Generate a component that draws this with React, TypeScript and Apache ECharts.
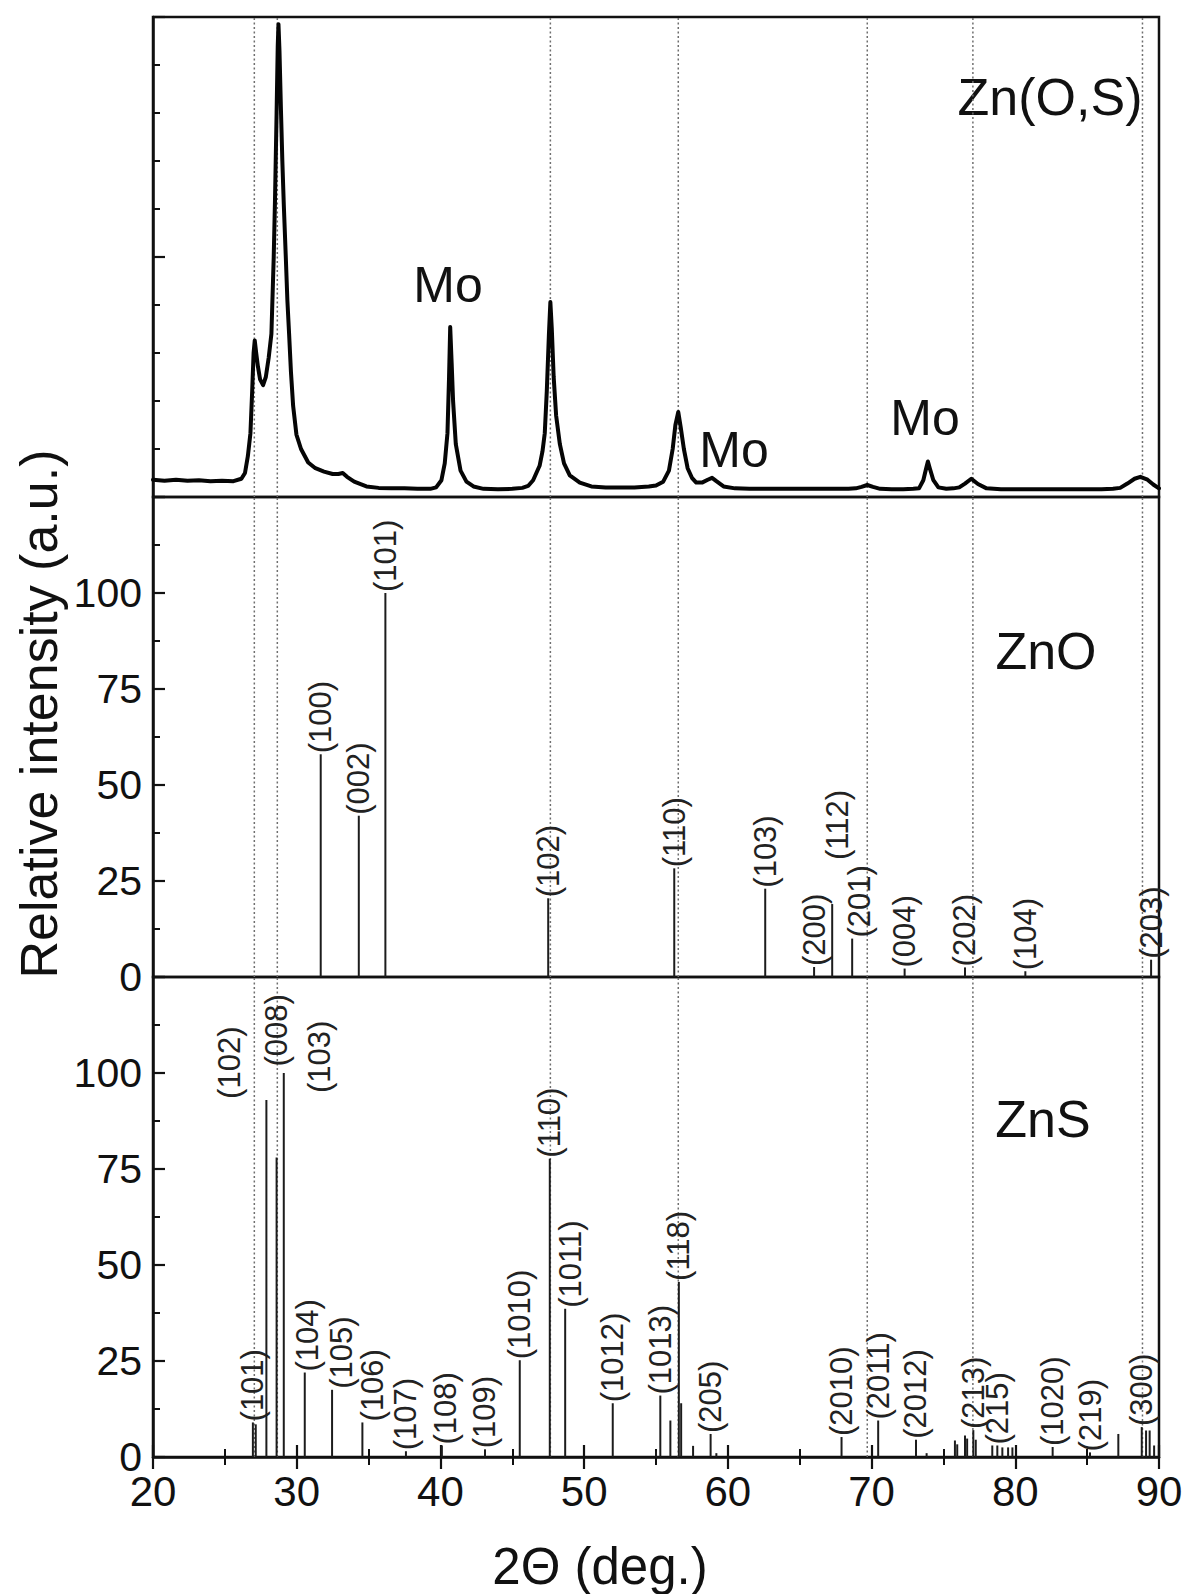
import React, { useEffect, useRef } from "react";
import * as echarts from "echarts";

const FONT = "'Liberation Sans', Arial, Helvetica, sans-serif";

// ---- Panel 1: measured Zn(O,S) pattern (2θ in deg, intensity in arbitrary units 0..10)
const XRD_ANGLE = [
  20.0, 20.8, 21.6, 22.4, 23.2, 24.0, 24.8, 25.6, 26.15, 26.4, 26.6, 26.78, 26.9, 27.0, 27.08, 27.18, 27.3,
  27.45, 27.66, 27.85, 28.05, 28.24, 28.4, 28.49, 28.6, 28.68, 28.73, 28.8, 28.9, 29.0, 29.1, 29.24, 29.35,
  29.47, 29.6, 29.75, 29.98, 30.3, 30.8, 31.3, 31.9, 32.5, 32.9, 33.2, 33.5, 34.0, 34.85, 35.7, 36.6, 37.5,
  38.4, 39.3, 39.7, 40.07, 40.3, 40.49, 40.6, 40.68, 40.78, 40.88, 41.07, 41.4, 41.81, 42.3, 43.0, 44.0, 45.0,
  45.7, 46.1, 46.45, 46.9, 47.1, 47.26, 47.4, 47.55, 47.65, 47.75, 47.88, 48.05, 48.31, 48.6, 49.0, 49.7,
  50.5, 51.5, 52.5, 53.5, 54.5, 55.0, 55.5, 55.9, 56.16, 56.35, 56.55, 56.72, 56.94, 57.2, 57.5, 57.8, 58.2,
  58.6, 58.9, 59.2, 59.7, 60.5, 61.5, 62.5, 63.5, 64.5, 65.5, 66.5, 67.5, 68.4, 68.9, 69.3, 69.7, 70.1, 70.6,
  71.4, 72.2, 72.9, 73.3, 73.6, 73.8, 73.92, 74.05, 74.3, 74.65, 75.2, 75.7, 76.1, 76.5, 76.94, 77.4, 78.0,
  79.0, 80.0, 81.0, 82.0, 83.0, 84.0, 85.0, 86.0, 86.8, 87.3, 87.8, 88.3, 88.7, 89.2, 89.6, 90.0,
];
const XRD_INTENSITY = [
  0.36, 0.34, 0.36, 0.34, 0.35, 0.33, 0.34, 0.33, 0.38, 0.5, 0.85, 1.33, 2.2, 3.0, 3.26, 3.0, 2.72,
  2.45, 2.33, 2.5, 2.9, 3.4, 5.0, 6.2, 8.0, 9.4, 9.85, 9.3, 8.1, 7.0, 6.1, 5.0, 4.1,
  3.4, 2.6, 1.9, 1.3, 1.0, 0.72, 0.6, 0.53, 0.48, 0.48, 0.5, 0.42, 0.32, 0.22, 0.19, 0.18, 0.18,
  0.17, 0.17, 0.2, 0.35, 0.7, 1.33, 2.5, 3.54, 2.8, 2.0, 1.1, 0.55, 0.32, 0.22, 0.17, 0.16, 0.17,
  0.19, 0.23, 0.35, 0.65, 0.95, 1.33, 2.2, 3.4, 4.06, 3.5, 2.5, 1.7, 1.1, 0.7, 0.45, 0.3,
  0.22, 0.2, 0.2, 0.2, 0.22, 0.24, 0.32, 0.55, 1.0, 1.5, 1.77, 1.45, 1.0, 0.6, 0.4, 0.3, 0.3,
  0.36, 0.4, 0.33, 0.22, 0.18, 0.17, 0.17, 0.17, 0.17, 0.17, 0.17, 0.17, 0.17, 0.18, 0.21, 0.25, 0.21, 0.17,
  0.16, 0.16, 0.17, 0.18, 0.35, 0.6, 0.74, 0.6, 0.35, 0.2, 0.17, 0.18, 0.2, 0.28, 0.38, 0.27, 0.18,
  0.16, 0.16, 0.16, 0.16, 0.16, 0.16, 0.16, 0.16, 0.17, 0.19, 0.28, 0.38, 0.42, 0.36, 0.26, 0.18,
];

// ---- Panel 2: ZnO reference pattern
const ZNO_ANGLE = [31.67, 34.32, 36.17, 47.5, 56.27, 62.6, 66.0, 67.26, 68.65, 72.3, 76.5, 80.7, 89.45];
const ZNO_INT = [58, 42, 100, 20.5, 28.3, 23, 2.6, 19, 10, 2.2, 2.5, 1.5, 4.5];
const ZNO_HKL = ["(100)", "(002)", "(101)", "(102)", "(110)", "(103)", "(200)", "(112)", "(201)", "(004)", "(202)", "(104)", "(203)"];

// ---- Panel 3: ZnS reference pattern
const ZNS_ANGLE = [
  26.95, 27.15, 27.89, 28.6, 29.1, 30.56, 32.46, 34.57, 37.6, 40.1, 43.1, 45.52, 47.61, 48.68, 51.99, 55.0,
  55.3, 56.0, 56.59, 56.75, 57.58, 58.8, 59.2, 67.91, 70.46, 73.09, 73.83, 75.8, 75.96, 76.5, 76.65, 77.08,
  77.25, 78.4, 78.75, 79.1, 79.5, 79.8, 82.6, 85.2, 87.17, 88.8, 89.1, 89.35, 89.66,
];
const ZNS_INT = [
  9, 8.5, 93, 78, 100, 22, 17.5, 9, 1.5, 3, 2, 25.2, 77.7, 38.6, 14, 1.5,
  16, 9.5, 45.6, 14, 2.9, 6, 1, 5.2, 9.5, 4.5, 1, 4.3, 3.3, 5.6, 4.8, 7,
  4.5, 3, 3, 2.5, 2.5, 2.5, 2.6, 1.2, 6, 7.8, 6.9, 6.9, 3,
];
const ZNS_HKL = [
  "(101)", "", "(102)", "(008)", "(103)", "(104)", "(105)", "(106)", "(107)", "(108)", "(109)", "(1010)", "(110)", "(1011)", "(1012)", "",
  "(1013)", "", "(118)", "", "", "(205)", "", "(2010)", "(2011)", "(2012)", "", "", "", "", "", "(213)",
  "", "", "(215)", "", "", "", "(1020)", "(219)", "", "(300)", "", "", "",
];

// dotted guide lines (2θ)
const GUIDE_ANGLES = [27.05, 28.65, 47.65, 56.55, 69.7, 77.05, 88.85];

// axis ranges
const X_RANGE = [20, 90];
const X_STEP = 10;
const Y1_RANGE = [0, 10];
const Y_RANGE = [0, 125];
const Y_STEP = 25;

// layout-only label nudges (pixels), keyed by panel + label
const LABEL_NUDGE: Record<string, [number, number]> = {
  "ZnO(112)": [5, -43],
  "ZnO(201)": [7, 0],
  "ZnS(102)": [-37, 0],
  "ZnS(008)": [0, -90],
  "ZnS(103)": [36, 21],
  "ZnS(104)": [3, 0],
  "ZnS(105)": [9, 0],
  "ZnS(106)": [10, 0],
  "ZnS(108)": [4, 0],
  "ZnS(1011)": [5, 0],
};

const GRID_LEFT = 153;
const GRID_WIDTH = 1006;
const GRID_TOPS = [17, 497, 977];
const GRID_H = 480;

function guideSeries(idx: number, yMax: number) {
  return {
    type: "custom",
    xAxisIndex: idx,
    yAxisIndex: idx,
    silent: true,
    z: 1,
    data: GUIDE_ANGLES.map((a) => [a, 0]),
    renderItem: (params: any, api: any) => {
      const a = api.value(0);
      const p0 = api.coord([a, 0]);
      const p1 = api.coord([a, yMax]);
      return {
        type: "line",
        shape: { x1: p0[0], y1: p0[1], x2: p1[0], y2: p1[1] },
        style: { stroke: "#6f6f6f", lineWidth: 1.5, lineDash: [2, 2.5] },
      };
    },
  };
}

function stickSeries(panel: string, idx: number, angles: number[], ints: number[], hkls: string[]) {
  return {
    type: "custom",
    name: panel,
    xAxisIndex: idx,
    yAxisIndex: idx,
    clip: false,
    z: 3,
    data: angles.map((a, i) => [a, ints[i]]),
    encode: { x: 0, y: 1 },
    renderItem: (params: any, api: any) => {
      const a = api.value(0);
      const h = api.value(1);
      const base = api.coord([a, 0]);
      const top = api.coord([a, h]);
      const label = hkls[params.dataIndex];
      const children: any[] = [
        {
          type: "line",
          shape: { x1: base[0], y1: base[1], x2: top[0], y2: top[1] },
          style: { stroke: "#1c1c1c", lineWidth: 2 },
        },
      ];
      if (label) {
        const n = LABEL_NUDGE[panel + label] || [0, 0];
        children.push({
          type: "text",
          x: top[0] + n[0],
          y: top[1] - 1 + n[1],
          rotation: Math.PI / 2,
          style: {
            text: label,
            fontSize: 31,
            fontFamily: FONT,
            fill: "#222",
            align: "left",
            verticalAlign: "middle",
          },
        });
      }
      return { type: "group", children };
    },
  };
}

function makeOption() {
  const frame = { color: "#111", width: 2.5 };
  const grids = GRID_TOPS.map((t) => ({
    left: GRID_LEFT,
    top: t,
    width: GRID_WIDTH,
    height: GRID_H,
    show: true,
    borderColor: "#111",
    borderWidth: 2.5,
    backgroundColor: "transparent",
  }));
  const hiddenX = (i: number) => ({
    type: "value",
    gridIndex: i,
    min: X_RANGE[0],
    max: X_RANGE[1],
    interval: X_STEP,
    axisLine: { show: false },
    axisTick: { show: false },
    axisLabel: { show: false },
    splitLine: { show: false },
  });
  const yCommon = (i: number, range: number[], step: number, minorSplit: number, showLabels: boolean) => ({
    type: "value",
    gridIndex: i,
    min: range[0],
    max: range[1],
    interval: step,
    axisLine: { show: true, lineStyle: frame },
    axisTick: { show: true, inside: true, length: 12, lineStyle: { color: "#111", width: 2.2 } },
    minorTick: { show: true, splitNumber: minorSplit, length: 7, lineStyle: { color: "#111", width: 2 } },
    axisLabel: {
      show: showLabels,
      margin: 11,
      fontSize: 41,
      lineHeight: 28,
      fontFamily: FONT,
      color: "#111",
      formatter: (v: number) => (v >= range[1] ? "" : String(v)),
    },
    splitLine: { show: false },
  });

  return {
    animation: false,
    backgroundColor: "#fff",
    grid: grids,
    xAxis: [
      hiddenX(0),
      hiddenX(1),
      {
        type: "value",
        gridIndex: 2,
        position: "bottom",
        min: X_RANGE[0],
        max: X_RANGE[1],
        interval: X_STEP,
        axisLine: { show: true, lineStyle: frame },
        axisTick: { show: true, inside: false, length: 12, lineStyle: { color: "#111", width: 2.2 } },
        minorTick: { show: true, splitNumber: 2, length: 8, lineStyle: { color: "#111", width: 2 } },
        axisLabel: { show: true, margin: 19, fontSize: 42, lineHeight: 30, fontFamily: FONT, color: "#111" },
        splitLine: { show: false },
      },
      {
        type: "value",
        gridIndex: 2,
        position: "bottom",
        min: X_RANGE[0],
        max: X_RANGE[1],
        interval: X_STEP,
        axisLine: { show: false },
        axisTick: { show: true, inside: true, length: 12, lineStyle: { color: "#111", width: 2.2 } },
        minorTick: { show: true, splitNumber: 2, length: 8, lineStyle: { color: "#111", width: 2 } },
        axisLabel: { show: false },
        splitLine: { show: false },
      },
    ],
    yAxis: [
      yCommon(0, Y1_RANGE, 5, 5, false),
      yCommon(1, Y_RANGE, Y_STEP, 2, true),
      yCommon(2, Y_RANGE, Y_STEP, 2, true),
    ],
    series: [
      guideSeries(0, Y1_RANGE[1]),
      guideSeries(1, Y_RANGE[1]),
      guideSeries(2, Y_RANGE[1]),
      {
        type: "line",
        xAxisIndex: 0,
        yAxisIndex: 0,
        z: 3,
        data: XRD_ANGLE.map((a, i) => [a, XRD_INTENSITY[i]]),
        symbol: "none",
        smooth: false,
        lineStyle: { color: "#050505", width: 4, cap: "round", join: "round" },
      },
      stickSeries("ZnO", 1, ZNO_ANGLE, ZNO_INT, ZNO_HKL),
      stickSeries("ZnS", 2, ZNS_ANGLE, ZNS_INT, ZNS_HKL),
    ],
    graphic: [
      {
        type: "text",
        x: 39,
        y: 714,
        rotation: Math.PI / 2,
        style: { text: "Relative intensity (a.u.)", fontSize: 52, fontFamily: FONT, fill: "#111", align: "center", verticalAlign: "middle" },
      },
      {
        type: "text",
        x: 600,
        y: 1566,
        style: { text: "2Θ (deg.)", fontSize: 51, lineHeight: 51, fontFamily: FONT, fill: "#111", align: "center", verticalAlign: "middle" },
      },
      { type: "text", x: 1050, y: 97, style: { text: "Zn(O,S)", fontSize: 52, fontFamily: FONT, fill: "#111", align: "center", verticalAlign: "middle" } },
      { type: "text", x: 1046, y: 651, style: { text: "ZnO", fontSize: 52, fontFamily: FONT, fill: "#111", align: "center", verticalAlign: "middle" } },
      { type: "text", x: 1043, y: 1119, style: { text: "ZnS", fontSize: 52, fontFamily: FONT, fill: "#111", align: "center", verticalAlign: "middle" } },
      { type: "text", x: 448, y: 285, style: { text: "Mo", fontSize: 50, fontFamily: FONT, fill: "#111", align: "center", verticalAlign: "middle" } },
      { type: "text", x: 734, y: 450, style: { text: "Mo", fontSize: 50, fontFamily: FONT, fill: "#111", align: "center", verticalAlign: "middle" } },
      { type: "text", x: 925, y: 418, style: { text: "Mo", fontSize: 50, fontFamily: FONT, fill: "#111", align: "center", verticalAlign: "middle" } },
    ],
  };
}

export default function App() {
  const ref = useRef<HTMLDivElement>(null);
  useEffect(() => {
    document.body.style.margin = "0";
    document.body.style.overflow = "hidden";
    if (!ref.current) return;
    const chart = echarts.init(ref.current, undefined, { renderer: "svg" });
    chart.setOption(makeOption() as any);
    return () => chart.dispose();
  }, []);
  return <div ref={ref} style={{ width: 1186, height: 1594, background: "#fff" }} />;
}
